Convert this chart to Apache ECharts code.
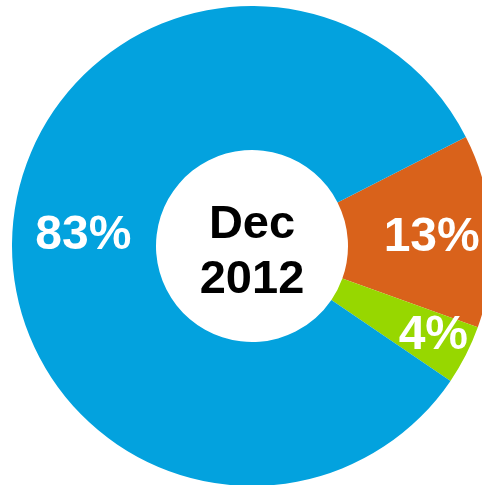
<!DOCTYPE html>
<html><head><meta charset="utf-8">
<script src="https://cdn.jsdelivr.net/npm/echarts@6/dist/echarts.min.js"></script>
<style>html,body{margin:0;padding:0;background:#fff}#c{width:482px;height:485px}</style>
</head><body><div id="c"></div>
<script>
var categories = ['Orange', 'Green', 'Blue'];
var values = [13, 4, 83];
var colors = ['#D9621B', '#97D700', '#03A2DE'];
var centerText = 'Dec\n2012';

var chart = echarts.init(document.getElementById('c'), null, {renderer: 'canvas'});
chart.setOption({
  animation: false,
  series: [{
    type: 'pie',
    center: [252, 246],
    radius: [96, 240],
    startAngle: 27,
    clockwise: true,
    avoidLabelOverlap: false,
    label: {
      show: true,
      position: 'inside',
      formatter: '{c}%',
      color: '#fff',
      fontFamily: 'Liberation Sans, Arial, sans-serif',
      fontWeight: 'bold',
      fontSize: 48
    },
    labelLine: {show: false},
    emphasis: {disabled: true},
    data: categories.map(function (n, i) {
      var d = {name: n, value: values[i], itemStyle: {color: colors[i]}};
      if (i === 0) d.label = {offset: [9, 3]};
      if (i === 1) d.label = {offset: [29, 12]};
      if (i === 2) d.label = {offset: [2, 1]};
      return d;
    })
  }],
  graphic: [{
    type: 'text',
    x: 252, y: 253,
    style: {
      text: centerText,
      textAlign: 'center',
      textVerticalAlign: 'middle',
      fill: '#000',
      font: 'bold 47px "Liberation Sans", Arial, sans-serif',
      lineHeight: 55
    }
  }]
});
</script></body></html>
